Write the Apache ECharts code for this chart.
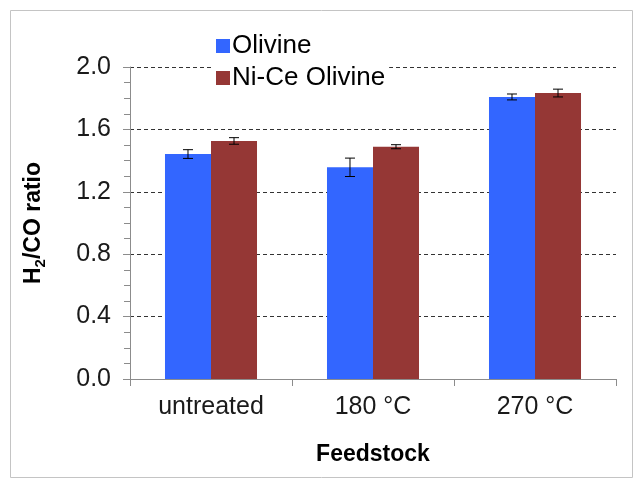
<!DOCTYPE html>
<html>
<head>
<meta charset="utf-8">
<script src="https://cdn.jsdelivr.net/npm/echarts@6/dist/echarts.min.js"></script>
<style>
  html, body { margin: 0; padding: 0; background: #fff; }
  #chart { width: 636px; height: 480px; }
</style>
</head>
<body>
<div id="chart"></div>
<script>
// Feedstock categories and H2/CO ratios with standard deviations
const categories = ['untreated', '180 °C', '270 °C'];
const olivine = [1.442, 1.357, 1.808];
const olivineErr = [0.028, 0.059, 0.019];
const niCeOlivine = [1.526, 1.489, 1.833];
const niCeOlivineErr = [0.021, 0.013, 0.025];
const yTicks = [0.0, 0.4, 0.8, 1.2, 1.6, 2.0];

const BAR_FRACTION = 0.284; // bar width as a share of the category band
const FONT = 'Liberation Sans, Arial, sans-serif';

// Error bars centred on each bar, offset within the category band
function errorSeries(values, errs, side) {
  return {
    type: 'custom',
    z: 10,
    silent: true,
    data: values.map((v, i) => [i, v, errs[i]]),
    renderItem: function (params, api) {
      const i = api.value(0), v = api.value(1), e = api.value(2);
      const band = api.size([1, 0])[0];
      const base = api.coord([i, v]);
      const x = base[0] + side * band * BAR_FRACTION / 2;
      const yHi = api.coord([i, v + e])[1];
      const yLo = api.coord([i, v - e])[1];
      const cap = 5;
      const style = { stroke: '#000', lineWidth: 1 };
      return {
        type: 'group',
        children: [
          { type: 'line', shape: { x1: x, y1: yHi, x2: x, y2: yLo }, style: style },
          { type: 'line', shape: { x1: x - cap, y1: yHi, x2: x + cap, y2: yHi }, style: style },
          { type: 'line', shape: { x1: x - cap, y1: yLo, x2: x + cap, y2: yLo }, style: style }
        ]
      };
    }
  };
}

const chart = echarts.init(document.getElementById('chart'));
chart.setOption({
  animation: false,
  backgroundColor: '#fff',
  graphic: [{
    type: 'rect',
    shape: { x: 10.5, y: 10.5, width: 622, height: 467 },
    style: { fill: 'none', stroke: '#c4c4c4', lineWidth: 1 },
    silent: true
  }],
  legend: {
    orient: 'vertical',
    left: 212,
    top: 29,
    padding: 4,
    backgroundColor: '#fff',
    z: 20,
    itemWidth: 14,
    itemHeight: 14,
    itemGap: 6,
    icon: 'rect',
    textStyle: { fontSize: 26, color: '#000', fontFamily: FONT, padding: [0, 0, 0, -3] },
    data: ['Olivine', 'Ni-Ce Olivine']
  },
  grid: { left: 130, right: 20, top: 67, bottom: 101 },
  xAxis: {
    type: 'category',
    data: categories,
    name: 'Feedstock',
    nameLocation: 'middle',
    nameGap: 64,
    nameTextStyle: { fontSize: 23, fontWeight: 'bold', color: '#000', fontFamily: FONT },
    axisLine: { lineStyle: { color: '#8c8c8c', width: 1 } },
    axisTick: { show: true, length: 7, lineStyle: { color: '#8c8c8c' } },
    axisLabel: { fontSize: 25, color: '#1a1a1a', fontFamily: FONT, margin: 16 }
  },
  yAxis: {
    type: 'value',
    min: 0,
    max: 2.0,
    interval: 0.4,
    name: '{b|H}{s|2}{b|/CO ratio}',
    nameLocation: 'middle',
    nameRotate: 90,
    nameGap: 82,
    nameTextStyle: {
      rich: {
        b: { fontSize: 23, fontWeight: 'bold', color: '#000', fontFamily: FONT, lineHeight: 28 },
        s: { fontSize: 15, fontWeight: 'bold', color: '#000', fontFamily: FONT, lineHeight: 28, verticalAlign: 'bottom', padding: [8, 0, 0, 0] }
      }
    },
    axisLine: { show: true, lineStyle: { color: '#8c8c8c', width: 1 } },
    axisTick: { show: true, length: 7, lineStyle: { color: '#8c8c8c' } },
    minorTick: { show: true, splitNumber: 4, length: 6, lineStyle: { color: '#8c8c8c' } },
    axisLabel: {
      fontSize: 25, color: '#1a1a1a', fontFamily: FONT, margin: 19,
      formatter: v => {
        const t = yTicks.find(x => Math.abs(x - v) < 1e-6);
        return (t !== undefined ? t : v).toFixed(1);
      }
    },
    splitLine: { show: true, lineStyle: { color: '#333', type: [4, 3], width: 1 } }
  },
  series: [
    {
      name: 'Olivine',
      type: 'bar',
      data: olivine,
      barWidth: (BAR_FRACTION * 100) + '%',
      barGap: '0%',
      itemStyle: { color: '#3366FF' }
    },
    {
      name: 'Ni-Ce Olivine',
      type: 'bar',
      data: niCeOlivine,
      barWidth: (BAR_FRACTION * 100) + '%',
      barGap: '0%',
      itemStyle: { color: '#953735' }
    },
    errorSeries(olivine, olivineErr, -1),
    errorSeries(niCeOlivine, niCeOlivineErr, 1)
  ]
});
</script>
</body>
</html>
